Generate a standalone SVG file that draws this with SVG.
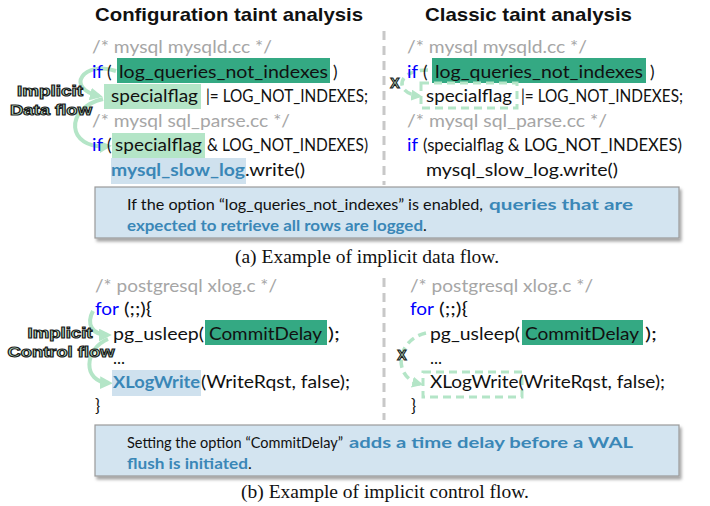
<svg xmlns="http://www.w3.org/2000/svg" width="710" height="506" viewBox="0 0 710 506">
<style>
.title{font-family:"Liberation Sans",Arial,sans-serif;font-weight:bold;font-size:19px;fill:#111}
.code{font-family:Lato,"Liberation Sans",sans-serif;font-size:17px;fill:#111}
.box{font-family:Lato,"Liberation Sans",sans-serif;font-size:16px;fill:#111}
.cm{fill:#a6a6a6}
.kw{fill:#0000ff}
.bl{fill:#3a87b7;font-weight:bold}
.cap{font-family:"Liberation Serif","Times New Roman",serif;font-size:19.5px;fill:#111;text-anchor:middle}
.lbl{font-family:"Liberation Sans",Arial,sans-serif;font-weight:900;font-size:15px;fill:#bfead0;stroke:#1a1a1a;stroke-width:1.1px;text-anchor:middle}
.dk{fill:#34a983}
.lg{fill:#b4e5c7}
.lb{fill:#cfe1ee}
.dash{fill:none;stroke:#b4e5c7;stroke-width:3;stroke-dasharray:8 5}
.arc{fill:none;stroke:#b4e5c7;stroke-width:4}
.arcd{fill:none;stroke:#b4e5c7;stroke-width:3.5;stroke-dasharray:8 5}
.div{stroke:#c8c8c8;stroke-width:3;stroke-dasharray:9 6}
.cbox{fill:#d3e4f0;stroke:#9a9a9a;stroke-width:1.2}
</style>
<defs>
<marker id="ah" viewBox="0 0 10 10" refX="7" refY="5" markerWidth="3.2" markerHeight="3.2" orient="auto" markerUnits="strokeWidth">
<path d="M0,0 L10,5 L0,10 z" fill="#b4e5c7"/>
</marker>
<filter id="sh" x="-5%" y="-20%" width="110%" height="150%">
<feDropShadow dx="2" dy="3" stdDeviation="1.5" flood-color="#000" flood-opacity="0.35"/>
</filter>
</defs>

<g id="titles">
<text class="title" x="95" y="21" textLength="268" lengthAdjust="spacingAndGlyphs">Configuration taint analysis</text>
<text class="title" x="425" y="21" textLength="207" lengthAdjust="spacingAndGlyphs">Classic taint analysis</text>
</g>

<g id="dividers">
<line class="div" x1="384" y1="31" x2="384" y2="185"/>
<line class="div" x1="384" y1="278" x2="384" y2="420"/>
</g>

<g id="connectors">
<path class="arc" d="M116 71 C84 60 64 88 99 96" marker-end="url(#ah)"/>
<path class="arc" d="M103 99 C64 108 66 150 108 146" marker-end="url(#ah)"/>
<path class="arc" d="M93 311 C86 324 92 335 108 335" marker-end="url(#ah)"/>
<path class="arc" d="M108 339 C84 349 82 382 109 383" marker-end="url(#ah)"/>
<path class="arcd" d="M428 70 C396 70 394 93 419 96" marker-end="url(#ah)"/>
<path class="arcd" d="M426 333 C396 340 392 377 420 384" marker-end="url(#ah)"/>
</g>

<g id="top-left-code">
<rect class="dk" x="117" y="58" width="213" height="25"/>
<rect class="lg" x="104" y="84" width="97" height="25"/>
<rect class="lg" x="112" y="133" width="93" height="25"/>
<rect class="lb" x="111" y="158" width="135" height="26"/>
<text class="code cm" x="92" y="53" textLength="180" lengthAdjust="spacingAndGlyphs">/* mysql mysqld.cc */</text>
<text class="code kw" x="92" y="78" textLength="11" lengthAdjust="spacingAndGlyphs">if</text>
<text class="code" x="107" y="78">(</text>
<text class="code" x="119" y="78" textLength="209" lengthAdjust="spacingAndGlyphs">log_queries_not_indexes</text>
<text class="code" x="333" y="78">)</text>
<text class="code" x="111" y="102" textLength="87" lengthAdjust="spacingAndGlyphs">specialflag</text>
<text class="code" x="206" y="102" textLength="162" lengthAdjust="spacingAndGlyphs">|= LOG_NOT_INDEXES;</text>
<text class="code cm" x="92" y="127" textLength="198" lengthAdjust="spacingAndGlyphs">/* mysql sql_parse.cc */</text>
<text class="code kw" x="92" y="151" textLength="11" lengthAdjust="spacingAndGlyphs">if</text>
<text class="code" x="107" y="151">(</text>
<text class="code" x="115" y="151" textLength="87" lengthAdjust="spacingAndGlyphs">specialflag</text>
<text class="code" x="207" y="151" textLength="161" lengthAdjust="spacingAndGlyphs">&amp; LOG_NOT_INDEXES)</text>
<text class="code bl" x="111" y="176" textLength="134" lengthAdjust="spacingAndGlyphs">mysql_slow_log</text>
<text class="code" x="245" y="176" textLength="60" lengthAdjust="spacingAndGlyphs">.write()</text>
</g>

<g id="label-data-flow">
<text class="lbl" x="50" y="96" textLength="66" lengthAdjust="spacingAndGlyphs">Implicit</text>
<text class="lbl" x="51" y="115" textLength="82" lengthAdjust="spacingAndGlyphs">Data flow</text>
</g>

<g id="top-right-code">
<rect class="dk" x="432" y="58" width="214" height="25"/>
<rect class="dash" x="421" y="83" width="96" height="25"/>
<text class="code cm" x="407" y="53" textLength="180" lengthAdjust="spacingAndGlyphs">/* mysql mysqld.cc */</text>
<text class="code kw" x="407" y="78" textLength="11" lengthAdjust="spacingAndGlyphs">if</text>
<text class="code" x="423" y="78">(</text>
<text class="code" x="435" y="78" textLength="208" lengthAdjust="spacingAndGlyphs">log_queries_not_indexes</text>
<text class="code" x="650" y="78">)</text>
<text class="code" x="426" y="102" textLength="86" lengthAdjust="spacingAndGlyphs">specialflag</text>
<text class="code" x="521" y="102" textLength="162" lengthAdjust="spacingAndGlyphs">|= LOG_NOT_INDEXES;</text>
<text class="code cm" x="407" y="127" textLength="200" lengthAdjust="spacingAndGlyphs">/* mysql sql_parse.cc */</text>
<text class="code kw" x="407" y="151" textLength="11" lengthAdjust="spacingAndGlyphs">if</text>
<text class="code" x="423" y="151" textLength="259" lengthAdjust="spacingAndGlyphs">(specialflag &amp; LOG_NOT_INDEXES)</text>
<text class="code" x="426" y="176" textLength="192" lengthAdjust="spacingAndGlyphs">mysql_slow_log.write()</text>
<text class="lbl" x="395" y="88" style="font-size:14px">X</text>
</g>

<g id="note-a">
<rect class="cbox" x="95" y="187" width="584" height="51" filter="url(#sh)"/>
<text class="box" x="127" y="210" textLength="356" lengthAdjust="spacingAndGlyphs">If the option “log_queries_not_indexes” is enabled,</text>
<text class="box bl" x="489" y="210" textLength="144" lengthAdjust="spacingAndGlyphs">queries that are</text>
<text class="box bl" x="127" y="231" textLength="296" lengthAdjust="spacingAndGlyphs">expected to retrieve all rows are logged</text>
<text class="box" x="423" y="231">.</text>
</g>

<g id="caption-a">
<text class="cap" x="367" y="263">(a) Example of implicit data flow.</text>
</g>

<g id="bottom-left-code">
<rect class="dk" x="205" y="320" width="122" height="25"/>
<rect class="lb" x="112" y="370" width="89" height="26"/>
<text class="code cm" x="95" y="292" textLength="182" lengthAdjust="spacingAndGlyphs">/* postgresql xlog.c */</text>
<text class="code kw" x="95" y="315" textLength="24" lengthAdjust="spacingAndGlyphs">for</text>
<text class="code" x="124" y="315" textLength="28" lengthAdjust="spacingAndGlyphs">(;;){</text>
<text class="code" x="113" y="340" textLength="91" lengthAdjust="spacingAndGlyphs">pg_usleep(</text>
<text class="code" x="209" y="340" textLength="113" lengthAdjust="spacingAndGlyphs">CommitDelay</text>
<text class="code" x="328" y="340" textLength="12" lengthAdjust="spacingAndGlyphs">);</text>
<text class="code" x="113" y="364">...</text>
<text class="code bl" x="113" y="388" textLength="87" lengthAdjust="spacingAndGlyphs">XLogWrite</text>
<text class="code" x="201" y="388" textLength="149" lengthAdjust="spacingAndGlyphs">(WriteRqst, false);</text>
<text class="code" x="95" y="412">}</text>
</g>

<g id="label-control-flow">
<text class="lbl" x="60" y="338" textLength="65" lengthAdjust="spacingAndGlyphs">Implicit</text>
<text class="lbl" x="61" y="357" textLength="107" lengthAdjust="spacingAndGlyphs">Control flow</text>
</g>

<g id="bottom-right-code">
<rect class="dk" x="522" y="320" width="121" height="25"/>
<rect class="dash" x="423" y="372" width="99" height="25"/>
<text class="code cm" x="410" y="292" textLength="183" lengthAdjust="spacingAndGlyphs">/* postgresql xlog.c */</text>
<text class="code kw" x="410" y="315" textLength="24" lengthAdjust="spacingAndGlyphs">for</text>
<text class="code" x="439" y="315" textLength="29" lengthAdjust="spacingAndGlyphs">(;;){</text>
<text class="code" x="430" y="340" textLength="90" lengthAdjust="spacingAndGlyphs">pg_usleep(</text>
<text class="code" x="525" y="340" textLength="114" lengthAdjust="spacingAndGlyphs">CommitDelay</text>
<text class="code" x="645" y="340" textLength="12" lengthAdjust="spacingAndGlyphs">);</text>
<text class="code" x="430" y="364">...</text>
<text class="code" x="430" y="388" textLength="235" lengthAdjust="spacingAndGlyphs">XLogWrite(WriteRqst, false);</text>
<text class="code" x="411" y="412">}</text>
<text class="lbl" x="402" y="360" style="font-size:14px">X</text>
</g>

<g id="note-b">
<rect class="cbox" x="95" y="425" width="584" height="51" filter="url(#sh)"/>
<text class="box" x="127" y="448" textLength="216" lengthAdjust="spacingAndGlyphs">Setting the option “CommitDelay”</text>
<text class="box bl" x="349" y="448" textLength="284" lengthAdjust="spacingAndGlyphs">adds a time delay before a WAL</text>
<text class="box bl" x="127" y="469" textLength="121" lengthAdjust="spacingAndGlyphs">flush is initiated</text>
<text class="box" x="248" y="469">.</text>
</g>

<g id="caption-b">
<text class="cap" x="385" y="498">(b) Example of implicit control flow.</text>
</g>
</svg>
